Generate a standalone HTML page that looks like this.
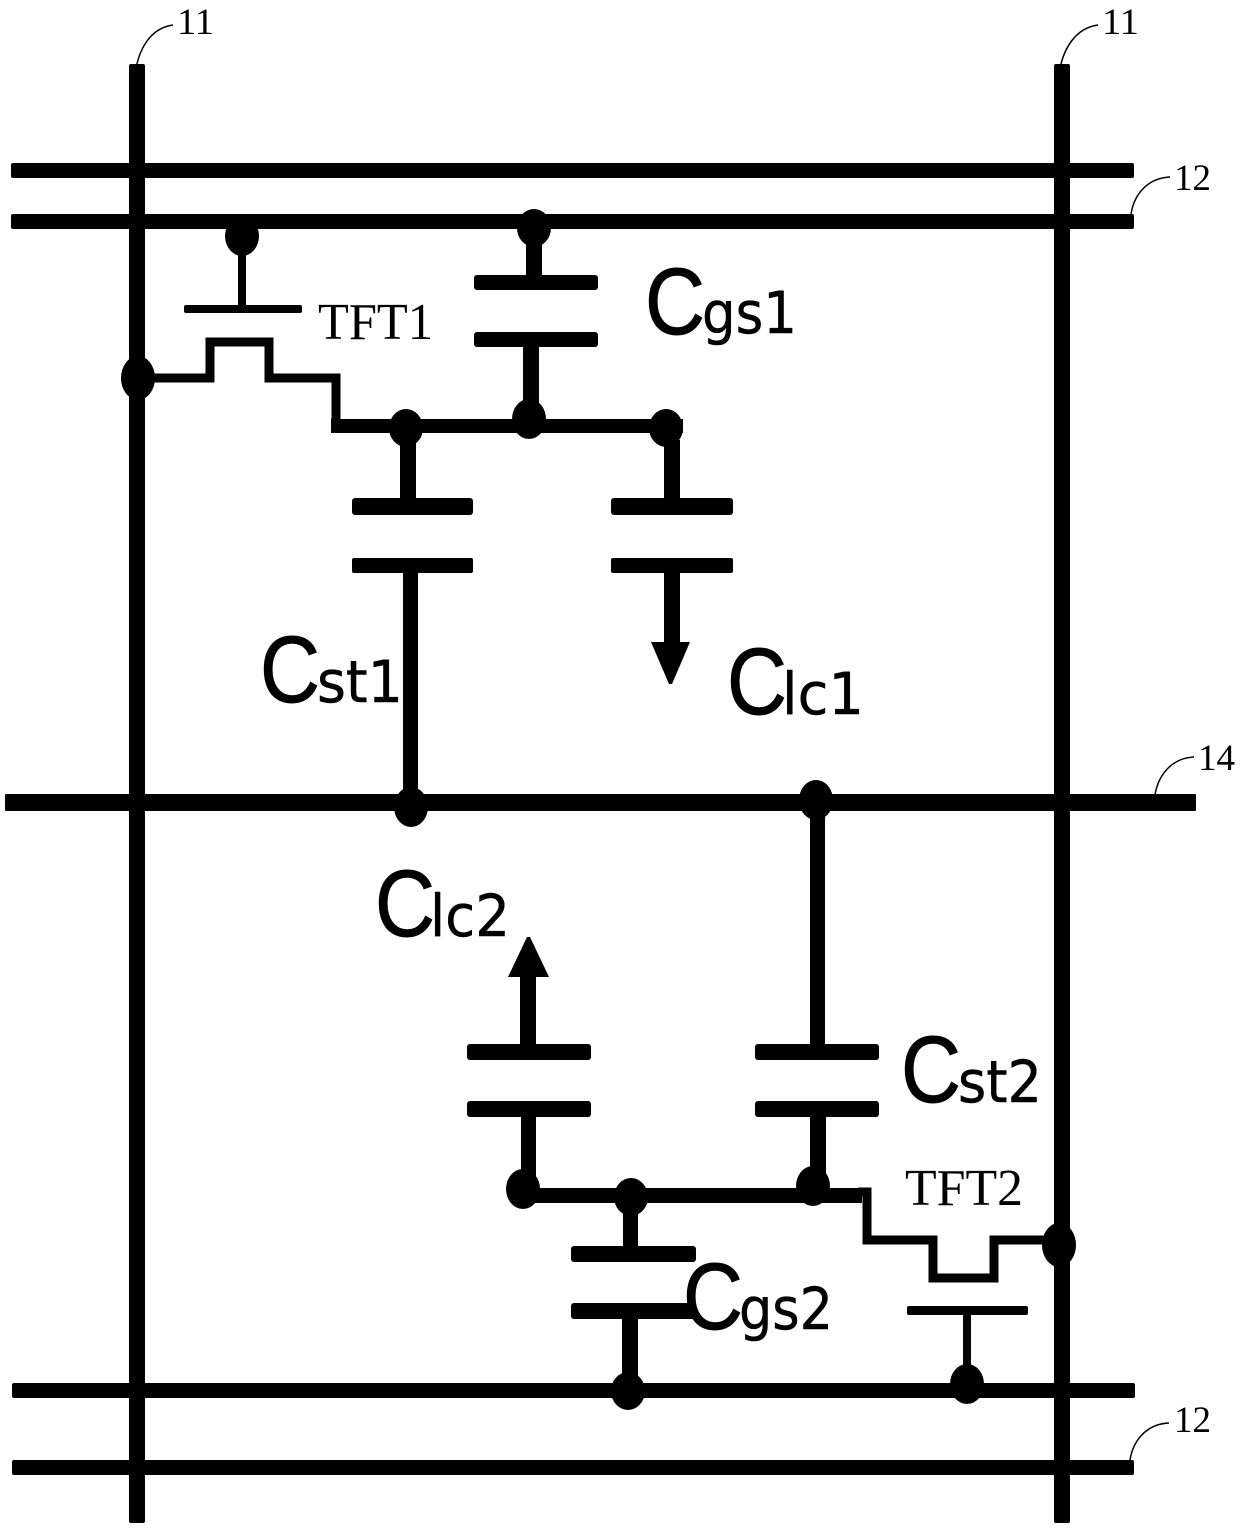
<!DOCTYPE html>
<html><head><meta charset="utf-8"><style>
html,body{margin:0;padding:0;background:#fff;width:1240px;height:1528px;overflow:hidden}
svg{display:block}
.n{font-family:"Liberation Serif",serif;font-size:37px;fill:#000}
.t{font-family:"Liberation Serif",serif;font-size:52px;fill:#000}
.c{font-family:"Liberation Sans",sans-serif;font-size:95px;fill:#000;stroke:#000;stroke-width:1}
.s{font-family:"DejaVu Sans","Liberation Sans",sans-serif;font-size:58px;fill:#000;stroke:#000;stroke-width:.5}
</style></head><body>
<svg width="1240" height="1528" viewBox="0 0 1240 1528" xmlns="http://www.w3.org/2000/svg">
<rect width="1240" height="1528" fill="#fff"/>
<g fill="#000" stroke="none">
<!-- rails -->
<rect x="129" y="64" width="16" height="1459" rx="2"/>
<rect x="1054" y="64" width="16" height="1459" rx="2"/>
<rect x="11" y="163" width="1123" height="15" rx="2"/>
<rect x="11" y="214" width="1123" height="15" rx="2"/>
<rect x="5" y="794" width="1191" height="17" rx="1"/>
<rect x="12" y="1383" width="1123" height="15" rx="2"/>
<rect x="12" y="1460" width="1122" height="15" rx="2"/>
<!-- Cgs1 -->
<ellipse cx="534" cy="228" rx="17" ry="19"/>
<rect x="526" y="235" width="16" height="40"/>
<rect x="474" y="275" width="124" height="15" rx="3"/>
<rect x="474" y="332" width="124" height="15" rx="3"/>
<rect x="523" y="347" width="16" height="70"/>
<!-- TFT1 gate -->
<ellipse cx="242" cy="236" rx="17" ry="20"/>
<rect x="238" y="250" width="8" height="62"/>
<rect x="184" y="305" width="118" height="8" rx="2"/>
<!-- bus 1 -->
<rect x="331" y="419" width="352" height="14"/>
<ellipse cx="406" cy="428" rx="17" ry="19"/>
<ellipse cx="529" cy="419" rx="17" ry="20"/>
<ellipse cx="666" cy="428" rx="17" ry="19"/>
<ellipse cx="138" cy="378" rx="17" ry="22"/>
<!-- Cst1 / Clc1 -->
<rect x="400" y="440" width="16" height="62"/>
<rect x="352" y="498" width="121" height="17" rx="3"/>
<rect x="352" y="558" width="121" height="15" rx="2"/>
<rect x="403" y="573" width="15" height="225"/>
<ellipse cx="411" cy="807" rx="17" ry="20"/>
<rect x="664" y="440" width="16" height="62"/>
<rect x="611" y="498" width="122" height="17" rx="3"/>
<rect x="611" y="558" width="122" height="15" rx="2"/>
<rect x="664" y="573" width="16" height="72"/>
<polygon points="651,642 690,642 672,684 669,684"/>
<!-- Cst2 -->
<ellipse cx="816" cy="800" rx="17" ry="20"/>
<rect x="810" y="810" width="15" height="240"/>
<rect x="755" y="1044" width="124" height="16" rx="3"/>
<rect x="755" y="1101" width="124" height="16" rx="3"/>
<rect x="810" y="1117" width="16" height="70"/>
<!-- Clc2 -->
<polygon points="527,937 530,937 549,977 508,977"/>
<rect x="520" y="975" width="16" height="70"/>
<rect x="467" y="1044" width="124" height="16" rx="3"/>
<rect x="467" y="1101" width="124" height="16" rx="3"/>
<rect x="521" y="1117" width="15" height="70"/>
<!-- bus 2 -->
<rect x="520" y="1188" width="342" height="15"/>
<ellipse cx="523" cy="1189" rx="17" ry="20"/>
<ellipse cx="631" cy="1197" rx="17" ry="19"/>
<ellipse cx="813" cy="1186" rx="17" ry="20"/>
<!-- Cgs2 -->
<rect x="623" y="1210" width="15" height="40"/>
<rect x="571" y="1246" width="125" height="16" rx="3"/>
<rect x="571" y="1303" width="125" height="16" rx="3"/>
<rect x="622" y="1318" width="16" height="70"/>
<ellipse cx="628" cy="1391" rx="17" ry="19"/>
<!-- TFT2 gate -->
<rect x="907" y="1306" width="121" height="9" rx="2"/>
<rect x="963" y="1314" width="8" height="62"/>
<ellipse cx="967" cy="1384" rx="17" ry="20"/>
<ellipse cx="1059" cy="1245" rx="17" ry="22"/>
</g>
<!-- TFT channels -->
<g fill="none" stroke="#000" stroke-linejoin="miter">
<path d="M150 378H210V342H269V378H336V426" stroke-width="9"/>
<path d="M858 1192H867V1240H933V1278H994V1240H1050" stroke-width="9"/>
</g>
<!-- leader lines -->
<g fill="none" stroke="#000" stroke-width="1.5">
<path d="M135 75C138 50 150 28 173 25"/>
<path d="M1059 75C1062 50 1075 28 1098 25"/>
<path d="M1131 214C1134 195 1147 178 1170 177"/>
<path d="M1155 795C1158 776 1171 758 1194 757"/>
<path d="M1130 1460C1133 1441 1146 1424 1169 1423"/>
</g>
<!-- labels -->
<text class="n" x="177" y="34" textLength="37" lengthAdjust="spacingAndGlyphs">11</text>
<text class="n" x="1102" y="34" textLength="37" lengthAdjust="spacingAndGlyphs">11</text>
<text class="n" x="1174" y="190" textLength="37" lengthAdjust="spacingAndGlyphs">12</text>
<text class="n" x="1198" y="770" textLength="37" lengthAdjust="spacingAndGlyphs">14</text>
<text class="n" x="1174" y="1432" textLength="37" lengthAdjust="spacingAndGlyphs">12</text>
<text class="t" x="318" y="339" textLength="115" lengthAdjust="spacingAndGlyphs">TFT1</text>
<text class="t" x="905" y="1205" textLength="118" lengthAdjust="spacingAndGlyphs">TFT2</text>

<text class="c" x="645" y="334" textLength="60" lengthAdjust="spacingAndGlyphs">C</text>
<text class="s" x="702" y="333" textLength="95" lengthAdjust="spacingAndGlyphs">gs1</text>

<text class="c" x="260" y="702" textLength="60" lengthAdjust="spacingAndGlyphs">C</text>
<text class="s" x="317" y="702" textLength="86" lengthAdjust="spacingAndGlyphs">st1</text>

<text class="c" x="727" y="714" textLength="60" lengthAdjust="spacingAndGlyphs">C</text>
<text class="s" x="782" y="714" textLength="82" lengthAdjust="spacingAndGlyphs">lc1</text>

<text class="c" x="375" y="936" textLength="60" lengthAdjust="spacingAndGlyphs">C</text>
<text class="s" x="430" y="936" textLength="80" lengthAdjust="spacingAndGlyphs">lc2</text>

<text class="c" x="901" y="1102" textLength="60" lengthAdjust="spacingAndGlyphs">C</text>
<text class="s" x="958" y="1102" textLength="84" lengthAdjust="spacingAndGlyphs">st2</text>

<text class="c" x="683" y="1329" textLength="60" lengthAdjust="spacingAndGlyphs">C</text>
<text class="s" x="739" y="1329" textLength="94" lengthAdjust="spacingAndGlyphs">gs2</text>
</svg>
</body></html>
